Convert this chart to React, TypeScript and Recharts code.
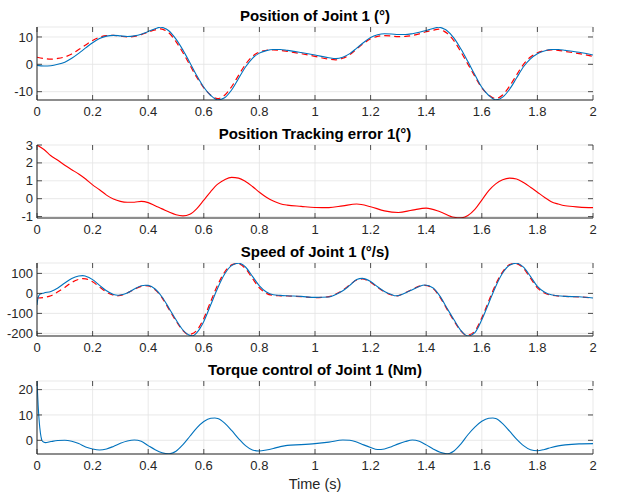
import React from "react";
import { LineChart, Line, XAxis, YAxis, CartesianGrid } from "recharts";

// ---------- data ----------
const xTicks = [0, 0.2, 0.4, 0.6, 0.8, 1, 1.2, 1.4, 1.6, 1.8, 2];

const posTime = [
  0, 0.025, 0.05, 0.075, 0.1, 0.125, 0.15, 0.175, 0.2, 0.225, 0.25, 0.275, 0.3, 0.325, 0.35, 0.375, 0.4, 0.425, 0.445, 0.465,
  0.475, 0.5, 0.525, 0.55, 0.575, 0.6, 0.625, 0.65, 0.675, 0.7, 0.725, 0.75, 0.775, 0.8, 0.825, 0.85, 0.875, 0.9, 0.95, 1.0,
  1.05, 1.075, 1.1, 1.125, 1.15, 1.175, 1.2, 1.225, 1.25, 1.275, 1.3, 1.325, 1.35, 1.375, 1.4, 1.425, 1.445, 1.465, 1.475, 1.5,
  1.525, 1.55, 1.575, 1.6, 1.625, 1.65, 1.675, 1.7, 1.725, 1.75, 1.775, 1.8, 1.825, 1.85, 1.875, 1.9, 1.95, 2.0,
];
const posActual = [
  -0.4, -0.6, -0.5, 0.0, 0.8, 2.2, 4.0, 6.0, 7.9, 9.4, 10.3, 10.6, 10.4, 10.2, 10.4, 11.0, 12.0, 13.0, 13.6, 12.9,
  12.2, 9.2, 5.2, 0.6, -4.2, -8.4, -11.4, -13.0, -12.2, -9.4, -5.2, -1.0, 2.2, 4.1, 5.0, 5.4, 5.4, 5.1, 4.3, 3.4,
  2.4, 2.1, 2.6, 3.9, 5.9, 8.0, 9.8, 10.8, 11.2, 11.1, 10.9, 10.9, 11.2, 11.7, 12.4, 13.1, 13.6, 12.9, 12.3, 9.6,
  5.6, 1.0, -3.8, -8.4, -11.4, -13.0, -12.0, -9.1, -5.0, -0.9, 2.0, 3.9, 4.9, 5.4, 5.4, 5.1, 4.4, 3.4,
];
const posDesired = [
  2.6, 2.15, 1.9, 2.15, 2.7, 3.8, 5.4, 7.1, 8.7, 9.9, 10.5, 10.6, 10.25, 10.0, 10.2, 10.85, 11.8, 12.6, 13.0, 12.2,
  11.45, 8.3, 4.25, -0.3, -4.8, -8.6, -11.3, -12.5, -11.3, -8.2, -4.05, 0.0, 2.9, 4.5, 5.1, 5.3, 5.1, 4.75, 3.9, 2.9,
  1.9, 1.65, 2.2, 3.55, 5.6, 7.65, 9.35, 10.2, 10.5, 10.35, 10.1, 10.2, 10.55, 11.15, 11.9, 12.5, 12.85, 12.05, 11.4, 8.55,
  4.5, 0.06, -4.4, -8.6, -11.2, -12.5, -11.2, -7.95, -3.9, 0.0, 2.65, 4.25, 4.98, 5.23, 5.1, 4.7, 3.93, 2.9,
];

const errTime = [
  0, 0.025, 0.05, 0.075, 0.1, 0.125, 0.15, 0.175, 0.2, 0.225, 0.25, 0.275, 0.3, 0.325, 0.35, 0.375, 0.4, 0.425, 0.45, 0.475,
  0.5, 0.525, 0.55, 0.575, 0.6, 0.625, 0.65, 0.675, 0.7, 0.725, 0.75, 0.775, 0.8, 0.825, 0.85, 0.875, 0.9, 0.95, 1.0,
  1.05, 1.1, 1.15, 1.2, 1.25, 1.3, 1.35, 1.4, 1.45, 1.5, 1.525, 1.55, 1.575, 1.6, 1.625, 1.65, 1.675, 1.7, 1.725, 1.75,
  1.775, 1.8, 1.825, 1.85, 1.875, 1.9, 1.95, 2.0,
];
const errValue = [
  3.0, 2.75, 2.4, 2.15, 1.87, 1.62, 1.38, 1.1, 0.77, 0.5, 0.2, -0.02, -0.15, -0.2, -0.2, -0.15, -0.22, -0.4, -0.57, -0.75,
  -0.9, -0.96, -0.87, -0.55, -0.08, 0.4, 0.81, 1.06, 1.19, 1.15, 0.96, 0.68, 0.36, 0.08, -0.13, -0.28, -0.36, -0.43, -0.49,
  -0.5, -0.4, -0.3, -0.45, -0.68, -0.77, -0.64, -0.53, -0.73, -1.04, -1.07, -0.94, -0.6, -0.08, 0.45, 0.83, 1.06, 1.15, 1.1, 0.9,
  0.64, 0.36, 0.08, -0.17, -0.3, -0.4, -0.47, -0.5,
];

const spdTimeActual = [
  0, 0.004, 0.01, 0.025, 0.05, 0.075, 0.1, 0.125, 0.15, 0.165, 0.175, 0.2, 0.225, 0.25, 0.275, 0.29, 0.3, 0.325, 0.35, 0.375,
  0.39, 0.4, 0.425, 0.45, 0.475, 0.5, 0.525, 0.55, 0.56, 0.575, 0.6, 0.625, 0.65, 0.675, 0.7, 0.725, 0.75, 0.775, 0.8, 0.825,
  0.85, 0.875, 0.9, 0.95, 1.0, 1.05, 1.075, 1.1, 1.125, 1.15, 1.17, 1.2, 1.225, 1.25, 1.275, 1.29, 1.3, 1.325, 1.35, 1.375,
  1.395, 1.425, 1.45, 1.475, 1.5, 1.525, 1.55, 1.575, 1.6, 1.625, 1.65, 1.675, 1.7, 1.725, 1.75, 1.775, 1.8, 1.825, 1.85, 1.9,
  1.95, 2.0,
];
const spdActual = [
  -58, -20, -5, 2, 10, 27, 52, 75, 87, 89, 86, 69, 40, 13, -5, -9, -8, 2, 22, 38,
  41, 40, 22, -18, -74, -132, -183, -210, -212, -196, -140, -57, 27, 97, 139, 151, 132, 85, 38, 7,
  -7, -10, -12, -15, -20, -18, -5, 13, 40, 69, 75, 59, 33, 10, -5, -12, -11, 2, 18, 35,
  42, 27, -15, -74, -132, -186, -213, -196, -132, -49, 35, 102, 141, 151, 131, 85, 35, 7, -7, -15,
  -17, -23,
];
const spdTimeDesired = [
  0, 0.025, 0.05, 0.075, 0.1, 0.125, 0.15, 0.165, 0.175, 0.2, 0.225, 0.25, 0.275, 0.29, 0.3, 0.325, 0.35, 0.375, 0.39, 0.4,
  0.425, 0.45, 0.475, 0.5, 0.525, 0.545, 0.55, 0.575, 0.6, 0.625, 0.65, 0.675, 0.7, 0.72, 0.75, 0.775, 0.8, 0.825, 0.85, 0.875,
  0.9, 0.95, 1.0, 1.05, 1.075, 1.1, 1.125, 1.15, 1.17, 1.2, 1.225, 1.25, 1.275, 1.29, 1.3, 1.325, 1.35, 1.375, 1.395, 1.425,
  1.45, 1.475, 1.5, 1.525, 1.545, 1.55, 1.575, 1.6, 1.625, 1.65, 1.675, 1.7, 1.72, 1.75, 1.775, 1.8, 1.825, 1.85, 1.9, 1.95, 2.0,
];
const spdDesired = [
  -23, -20, -12, 8, 30, 55, 70, 74, 73, 58, 32, 6, -9, -12, -10, 3, 20, 35, 39, 38,
  18, -22, -80, -138, -186, -206, -205, -185, -125, -40, 42, 107, 143, 149, 124, 75, 28, 0, -10, -12,
  -13, -16, -21, -16, -3, 16, 43, 67, 72, 56, 30, 7, -8, -13, -11, 3, 20, 36, 40, 24,
  -20, -80, -138, -188, -210, -209, -188, -122, -38, 45, 108, 144, 150, 125, 76, 28, 2, -9, -15, -18, -22,
];

const tqTime = [
  0, 0.004, 0.01, 0.02, 0.03, 0.05, 0.075, 0.1, 0.125, 0.15, 0.175, 0.2, 0.225, 0.25, 0.275, 0.3, 0.325, 0.35, 0.375, 0.4,
  0.425, 0.45, 0.475, 0.5, 0.525, 0.55, 0.575, 0.6, 0.625, 0.64, 0.65, 0.675, 0.7, 0.725, 0.75, 0.775, 0.8, 0.825, 0.85, 0.875,
  0.9, 0.95, 1.0, 1.05, 1.1, 1.125, 1.15, 1.175, 1.2, 1.225, 1.25, 1.275, 1.3, 1.325, 1.35, 1.375, 1.4, 1.425, 1.45, 1.475,
  1.5, 1.525, 1.55, 1.575, 1.6, 1.625, 1.64, 1.65, 1.675, 1.7, 1.725, 1.75, 1.775, 1.8, 1.825, 1.85, 1.875, 1.9, 1.95, 2.0,
];
const tqValue = [
  23.4, 14, 5, -0.4, -0.9, -0.5, -0.1, 0, -0.4, -1.3, -2.6, -3.4, -3.8, -3.4, -2.4, -1.2, -0.3, 0.1, -0.4, -2.1,
  -3.7, -4.9, -5.3, -4.3, -1.7, 1.6, 4.9, 7.4, 8.7, 8.8, 8.6, 6.8, 3.9, 0.7, -2.1, -3.8, -4.2, -3.8, -3.2, -2.5,
  -2.0, -1.7, -1.3, -0.7, 0.1, 0, -0.7, -1.8, -2.8, -3.6, -3.4, -2.5, -1.4, -0.5, 0.1, -0.4, -1.8, -3.4, -4.7, -5.3,
  -4.2, -1.4, 2.2, 5.2, 7.5, 8.7, 8.8, 8.6, 6.6, 3.6, 0.5, -2.1, -3.7, -4.1, -3.6, -2.8, -2.2, -1.8, -1.4, -1.3,
];

const titles = [
  "Position of Joint 1 (°)",
  "Position Tracking error 1(°)",
  "Speed of Joint 1 (°/s)",
  "Torque control of Joint 1 (Nm)",
];
const xLabel = "Time (s)";

// ---------- layout ----------
const W = 619;
const H = 498;
const PLOT_LEFT = 37;
const PLOT_W = 556;
const PLOT_H = 73;
const TOPS = [27, 145, 263, 381];
const FONT = '"Liberation Sans", Arial, Helvetica, sans-serif';
const AXIS = "#262626";
const GRID = "#e3e3e3";
const BLUE = "#0072BD";
const RED = "#FF0000";
const TL = 5;
const TICK_FS = 13;

const zip = (t: number[], v: number[]) => t.map((x, i) => ({ t: x, v: v[i] }));

type Series = { data: { t: number; v: number }[]; color: string; dashed?: boolean; width: number };

const XTick = (props: any) => {
  const { x, y, payload } = props;
  return (
    <g>
      <line x1={x} x2={x} y1={y} y2={y - TL} stroke={AXIS} strokeWidth={0.8} />
      <line x1={x} x2={x} y1={y - PLOT_H} y2={y - PLOT_H + TL} stroke={AXIS} strokeWidth={0.8} />
      <text x={x} y={y + 16} textAnchor="middle" fontSize={TICK_FS} fontFamily={FONT} fill={AXIS}>
        {String(payload.value)}
      </text>
    </g>
  );
};

const YTick = (props: any) => {
  const { x, y, payload } = props;
  return (
    <g>
      <line x1={x} x2={x + TL} y1={y} y2={y} stroke={AXIS} strokeWidth={0.8} />
      <line x1={x + PLOT_W} x2={x + PLOT_W - TL} y1={y} y2={y} stroke={AXIS} strokeWidth={0.8} />
      <text x={x - 4} y={y + 4.6} textAnchor="end" fontSize={TICK_FS} fontFamily={FONT} fill={AXIS}>
        {String(payload.value)}
      </text>
    </g>
  );
};

const Subplot = ({ top, yDomain, yTicks, series }: { top: number; yDomain: number[]; yTicks: number[]; series: Series[] }) => (
  <div style={{ position: "absolute", left: 0, top: top - 8, width: W, height: PLOT_H + 28 }}>
    <LineChart width={W} height={PLOT_H + 28} margin={{ top: 8, right: W - PLOT_LEFT - PLOT_W, bottom: 0, left: 7 }}>
      <CartesianGrid stroke={GRID} strokeWidth={0.8} />
      <XAxis
        dataKey="t"
        type="number"
        domain={[0, 2]}
        ticks={xTicks}
        interval={0}
        height={20}
        tickSize={0}
        tickMargin={0}
        tickLine={false}
        axisLine={{ stroke: AXIS, strokeWidth: 1 }}
        tick={XTick}
        allowDataOverflow
      />
      <XAxis
        xAxisId="top"
        orientation="top"
        dataKey="t"
        type="number"
        domain={[0, 2]}
        height={0}
        tick={false}
        tickLine={false}
        axisLine={{ stroke: AXIS, strokeWidth: 1 }}
      />
      <YAxis
        type="number"
        domain={yDomain}
        ticks={yTicks}
        interval={0}
        width={30}
        tickSize={0}
        tickMargin={0}
        tickLine={false}
        axisLine={{ stroke: AXIS, strokeWidth: 1 }}
        tick={YTick}
        allowDataOverflow
      />
      <YAxis
        yAxisId="right"
        orientation="right"
        type="number"
        domain={yDomain}
        width={0}
        tick={false}
        tickLine={false}
        axisLine={{ stroke: AXIS, strokeWidth: 1 }}
      />
      {series.map((s, i) => (
        <Line
          key={i}
          data={s.data}
          dataKey="v"
          type="monotone"
          stroke={s.color}
          strokeWidth={s.width}
          strokeDasharray={s.dashed ? "6 4" : undefined}
          dot={false}
          activeDot={false}
          isAnimationActive={false}
        />
      ))}
    </LineChart>
  </div>
);

export default function App() {
  const cx = PLOT_LEFT + PLOT_W / 2;
  return (
    <div style={{ position: "absolute", left: 0, top: 0, width: W, height: H, background: "#fff", overflow: "hidden" }}>
      <Subplot
        top={TOPS[0]}
        yDomain={[-13.05, 13.65]}
        yTicks={[-10, 0, 10]}
        series={[
          { data: zip(posTime, posDesired), color: RED, dashed: true, width: 1.2 },
          { data: zip(posTime, posActual), color: BLUE, width: 1.1 },
        ]}
      />
      <Subplot
        top={TOPS[1]}
        yDomain={[-1.08, 3.0]}
        yTicks={[-1, 0, 1, 2, 3]}
        series={[{ data: zip(errTime, errValue), color: RED, width: 1.1 }]}
      />
      <Subplot
        top={TOPS[2]}
        yDomain={[-213, 152]}
        yTicks={[-200, -100, 0, 100]}
        series={[
          { data: zip(spdTimeDesired, spdDesired), color: RED, dashed: true, width: 1.2 },
          { data: zip(spdTimeActual, spdActual), color: BLUE, width: 1.1 },
        ]}
      />
      <Subplot
        top={TOPS[3]}
        yDomain={[-5.4, 23.4]}
        yTicks={[0, 10, 20]}
        series={[{ data: zip(tqTime, tqValue), color: BLUE, width: 1.1 }]}
      />
      <svg width={W} height={H} style={{ position: "absolute", left: 0, top: 0, pointerEvents: "none" }}>
        {titles.map((t, i) => (
          <text key={i} x={cx} y={TOPS[i] - 6.5} textAnchor="middle" fontSize={15} fontWeight="bold" fontFamily={FONT} fill="#000">
            {t}
          </text>
        ))}
        <text x={cx} y={489} textAnchor="middle" fontSize={14.5} fontFamily={FONT} fill={AXIS}>
          {xLabel}
        </text>
      </svg>
    </div>
  );
}
